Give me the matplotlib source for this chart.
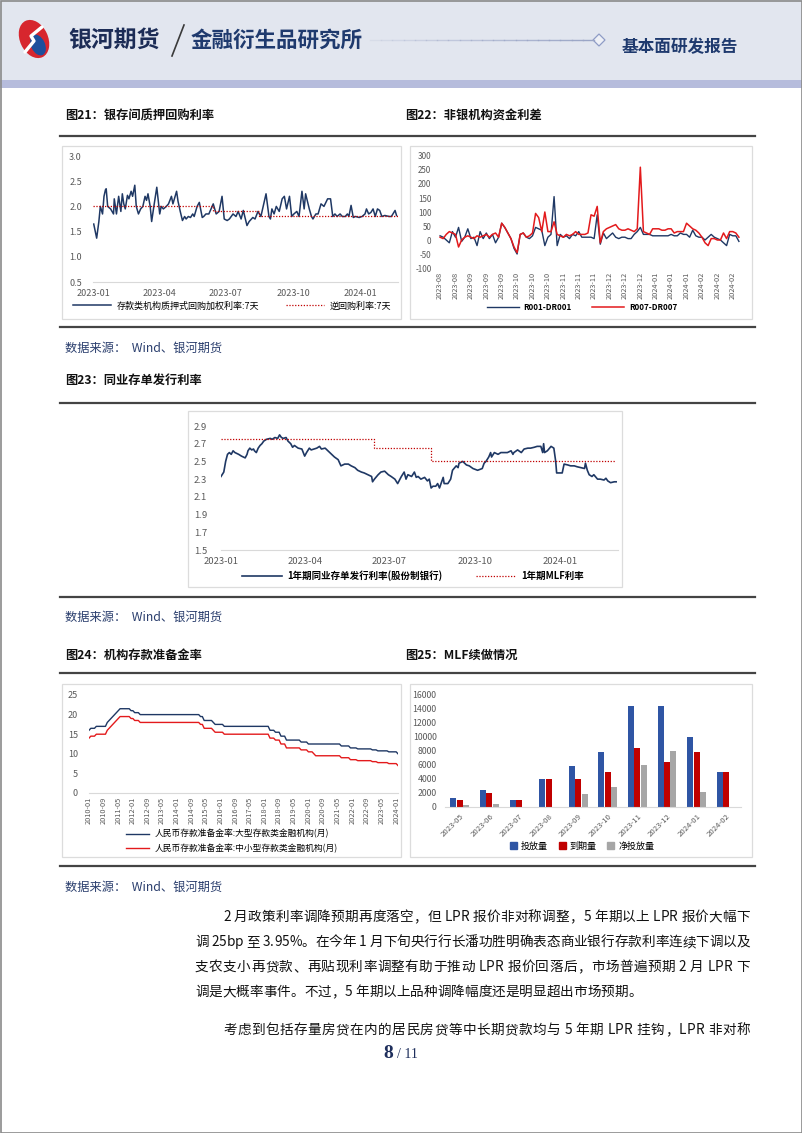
import matplotlib
matplotlib.use('Agg')
import matplotlib.pyplot as plt
import matplotlib.dates as mdates
from matplotlib.ticker import FormatStrFormatter
from matplotlib.patches import Rectangle, Ellipse, Polygon, Patch
import numpy as np
import pandas as pd

plt.rcParams['font.family'] = ['Noto Sans CJK SC', 'DejaVu Sans']
plt.rcParams['axes.unicode_minus'] = False

# ---------------- data ----------------
# Fig 21: 存款类机构质押式回购加权利率:7天 (days since 2023-01-01)
repo_day = [1, 5, 7, 8, 10, 13, 15, 17, 18, 20, 24, 26, 28,
            29, 32, 35, 38, 40, 42, 44, 47, 49, 52, 54, 57, 59,
            62, 65, 68, 71, 73, 75, 78, 80, 83, 87, 91,
            93, 96, 100, 103, 107, 109, 114, 116, 119, 122,
            125, 127, 130, 133, 136, 138, 142, 145, 149,
            151, 154, 158, 161, 164, 168, 172, 176, 179,
            183, 186, 191, 195, 198, 202, 205, 207, 210,
            213, 218, 221, 225, 229, 236, 240, 242,
            244, 247, 250, 254, 258, 261, 264, 268, 271,
            274, 278, 281, 285, 288, 290, 295, 298, 300,
            304, 307, 311, 315, 320, 324, 327, 330,
            333, 337, 340, 344, 347, 349, 352, 355, 358, 363,
            367, 371, 373, 376, 379, 382, 385, 388, 391, 394,
            398, 404, 407, 412, 414]
repo_rate = [1.65, 1.37, 1.6, 1.7, 2.0, 1.85, 2.2, 2.33, 2.35, 2.0, 1.95, 1.9, 1.85,
             2.15, 1.85, 2.2, 1.9, 2.25, 2.05, 1.95, 2.22, 2.15, 2.3, 2.2, 2.42, 2.0,
             1.85, 1.95, 2.0, 2.2, 2.12, 2.25, 2.0, 1.7, 2.0, 2.38, 1.85,
             2.0, 1.95, 2.0, 2.05, 2.2, 2.05, 2.3, 2.1, 1.9, 1.72,
             1.8, 1.75, 1.8, 1.78, 1.85, 1.8, 2.0, 2.08, 1.78,
             1.8, 1.85, 1.85, 1.95, 2.05, 1.85, 1.9, 2.2, 1.75,
             1.72, 1.75, 1.85, 1.8, 1.9, 1.75, 1.92, 1.8, 1.62,
             1.7, 1.78, 1.75, 1.9, 1.8, 2.25, 1.8, 1.75,
             1.95, 1.85, 2.0, 1.9, 2.15, 2.2, 1.95, 2.2, 1.8,
             1.85, 1.9, 1.8, 2.3, 1.95, 2.25, 1.95, 1.8, 1.75,
             1.85, 1.85, 2.05, 2.0, 2.15, 2.15, 1.8, 1.85,
             1.8, 1.85, 1.8, 1.8, 1.85, 1.8, 2.02, 1.78, 1.8, 1.78,
             1.8, 1.85, 1.95, 1.85, 1.88, 1.95, 1.8, 1.95, 1.92, 1.8,
             1.82, 1.8, 1.8, 1.92, 1.82]
rrepo_dates = ['2023-01-01', '2023-06-13', '2023-08-15', '2024-02-21']
rrepo_rate = [2.0, 1.9, 1.8, 1.8]

# Fig 22: 非银机构资金利差 (bp)
spread_labels = ['2023-08', '2023-08', '2023-09', '2023-09', '2023-09', '2023-10', '2023-10',
                 '2023-10', '2023-11', '2023-11', '2023-11', '2023-12', '2023-12', '2023-12',
                 '2024-01', '2024-01', '2024-01', '2024-02', '2024-02', '2024-02']
r001_dr001 = [15, 10, 0, -10, 30, 10, 45, -5, 10, 40,
              5, 10, -20, 30, 5, 25, 5, 20, -10, 10,
              60, 45, 25, 5, -30, -50, 20, 25, 10, 5,
              15, 45, 40, 35, -20, 10, 20, 155, -20, 20,
              10, 15, 5, 20, 15, 30, 10, 10, 10, 10,
              5, 90, -15, 25, 5, 15, 25, 10, 5, 10,
              10, 5, 5, 20, 30, 45, 20, 20, 20, 15,
              15, 15, 15, 15, 15, 20, 15, 15, 25, 20,
              20, 10, 35, 15, 10, 10, 0, 10, 20, 10,
              5, 0, -10, -20, 20, 15, 15, -5]
r007_dr007 = [10, 5, 20, 30, 25, 20, -25, 0, 10, 15,
              10, 5, 15, 10, 15, 20, 10, 20, 25, 10,
              60, 45, 25, 5, -25, -45, 20, 25, 10, 15,
              25, 95, 80, 30, 100, 30, 30, 65, 20, 15,
              10, 20, 15, 20, 30, 20, 20, 20, 25, 90,
              85, 120, -10, 30, 40, 45, 50, 55, 40, 35,
              35, 40, 35, 30, 40, 260, 30, 25, 20, 40,
              40, 40, 35, 35, 40, 40, 25, 30, 30, 30,
              60, 50, 40, 35, 25, 10, -10, -20, 5, 5,
              0, 0, 25, 5, 30, 30, 25, 10]

# Fig 23: 1年期同业存单发行利率(股份制银行) (days since 2023-01-01)
ncd_day = [0, 3, 5, 7, 9, 11, 13, 15, 19, 22,
           26, 28, 29, 31, 33, 35, 36, 38, 40, 42,
           44, 46, 49, 53, 55, 58, 61, 63, 65, 67,
           70, 72, 75, 77, 79, 83, 87, 90, 92, 95,
           97, 103, 106, 108, 112, 115, 119, 122, 126, 129,
           133, 137, 140, 144, 147, 151, 154, 158, 162, 163,
           165, 169, 172, 176, 180, 183, 187, 190, 194, 197,
           199, 201, 205, 208, 210, 212, 215, 219, 222, 224,
           226, 228, 231, 233, 235, 239, 240, 244, 247, 249,
           253, 255, 256, 260, 264, 267, 271, 276, 281, 283,
           285, 288, 290, 291, 294, 298, 301, 305, 308, 312,
           314, 315, 319, 323, 326, 330, 333, 337, 340, 344,
           346, 347, 348, 351, 355, 358, 360, 361, 365, 367,
           369, 373, 376, 380, 383, 387, 391, 392, 394, 396,
           399, 401, 405, 408, 412, 414, 416, 419, 423, 425]
ncd_rate = [2.33, 2.38, 2.5, 2.58, 2.6, 2.58, 2.62, 2.6, 2.58, 2.56,
            2.54, 2.58, 2.62, 2.65, 2.63, 2.64, 2.62, 2.6, 2.65, 2.68,
            2.7, 2.73, 2.75, 2.76, 2.75, 2.77, 2.76, 2.8, 2.77, 2.76,
            2.77, 2.73, 2.7, 2.66, 2.68, 2.65, 2.64, 2.56, 2.6, 2.65,
            2.63, 2.65, 2.67, 2.64, 2.65, 2.62, 2.58, 2.55, 2.52, 2.45,
            2.47, 2.47, 2.45, 2.43, 2.4, 2.38, 2.37, 2.35, 2.33, 2.27,
            2.3, 2.35, 2.38, 2.39, 2.35, 2.33, 2.3, 2.25, 2.33, 2.38,
            2.3, 2.35, 2.33, 2.38, 2.32, 2.33, 2.3, 2.32, 2.28, 2.3,
            2.2, 2.22, 2.22, 2.25, 2.2, 2.32, 2.25, 2.25, 2.3, 2.4,
            2.45, 2.43, 2.48, 2.5, 2.46, 2.45, 2.42, 2.4, 2.42, 2.48,
            2.5, 2.55, 2.6, 2.55, 2.6, 2.58, 2.6, 2.6, 2.6, 2.62,
            2.58, 2.6, 2.63, 2.6, 2.64, 2.65, 2.65, 2.66, 2.67, 2.67,
            2.6, 2.7, 2.6, 2.62, 2.67, 2.65, 2.5, 2.37, 2.37, 2.37,
            2.47, 2.46, 2.45, 2.45, 2.44, 2.43, 2.42, 2.48, 2.4, 2.35,
            2.33, 2.35, 2.3, 2.3, 2.29, 2.31, 2.28, 2.26, 2.27, 2.27]
mlf_dates = ['2023-01-01', '2023-06-15', '2023-08-15', '2024-02-29']
mlf_rate = [2.75, 2.65, 2.50, 2.50]

# Fig 24: 人民币存款准备金率 (month of change -> level)
rrr_months = pd.period_range('2010-01', '2024-02', freq='M')
rrr_large_month = ['2010-01', '2010-02', '2010-05', '2010-11', '2010-12', '2011-01', '2011-02',
                   '2011-03', '2011-04', '2011-05', '2011-06', '2011-12', '2012-02', '2012-05',
                   '2015-02', '2015-04', '2015-09', '2015-10', '2016-03', '2018-04', '2018-07',
                   '2018-10', '2019-01', '2019-09', '2020-01', '2021-07', '2021-12', '2022-04',
                   '2022-12', '2023-03', '2023-09', '2024-02']
rrr_large_value = [16.0, 16.5, 17.0, 18.0, 18.5, 19.0, 19.5, 20.0, 20.5, 21.0, 21.5, 21.0,
                   20.5, 20.0, 19.5, 18.5, 18.0, 17.5, 17.0, 16.0, 15.5, 14.5, 13.5, 13.0,
                   12.5, 12.0, 11.5, 11.25, 11.0, 10.75, 10.5, 10.0]
rrr_small_month = ['2010-01', '2010-02', '2010-05', '2010-11', '2010-12', '2011-01', '2011-02',
                   '2011-03', '2011-04', '2011-05', '2011-06', '2011-12', '2012-02', '2012-05',
                   '2015-02', '2015-04', '2015-09', '2015-10', '2016-03', '2018-04', '2018-07',
                   '2018-10', '2019-01', '2019-09', '2020-01', '2020-04', '2020-05', '2021-07',
                   '2021-12', '2022-04', '2022-12', '2023-03', '2023-09', '2024-02']
rrr_small_value = [14.0, 14.5, 15.0, 16.0, 16.5, 17.0, 17.5, 18.0, 18.5, 19.0, 19.5, 19.0,
                   18.5, 18.0, 17.5, 16.5, 16.0, 15.5, 15.0, 14.0, 13.5, 12.5, 11.5, 11.0,
                   10.5, 10.0, 9.5, 9.0, 8.5, 8.25, 8.0, 7.75, 7.5, 7.0]

# Fig 25: MLF续做情况 (亿元)
mlf_months = ['2023-05', '2023-06', '2023-07', '2023-08', '2023-09', '2023-10',
              '2023-11', '2023-12', '2024-01', '2024-02']
mlf_issue = [1250, 2370, 1030, 4010, 5910, 7890, 14500, 14500, 9950, 5000]
mlf_mature = [1000, 2000, 1000, 4000, 4000, 5000, 8500, 6500, 7790, 5000]
mlf_net = [250, 370, 30, 10, 1910, 2890, 6000, 8000, 2160, 0]

para_lines = [
    '2 月政策利率调降预期再度落空，但 LPR 报价非对称调整，5 年期以上 LPR 报价大幅下',
    '调 25bp 至 3.95%。在今年 1 月下旬央行行长潘功胜明确表态商业银行存款利率连续下调以及',
    '支农支小再贷款、再贴现利率调整有助于推动 LPR 报价回落后，市场普遍预期 2 月 LPR 下',
    '调是大概率事件。不过，5 年期以上品种调降幅度还是明显超出市场预期。',
    '考虑到包括存量房贷在内的居民房贷等中长期贷款均与 5 年期 LPR 挂钩，LPR 非对称',
]

# ---------------- styling ----------------
NAVY = '#1f3864'
RED = '#c00000'
BRIGHT_RED = '#e31a1c'
BLUE = '#2f55a4'
GRAY = '#a6a6a6'
TICK_C = '#595959'
SRC_C = '#2b3f6e'

W, H = 802, 1133
fig = plt.figure(figsize=(W / 100, H / 100), dpi=100)
renderer = fig.canvas.get_renderer()


def add_ax(x0, y0, x1, y1):
    ax = fig.add_axes([x0 / W, 1 - y1 / H, (x1 - x0) / W, (y1 - y0) / H])
    ax.patch.set_alpha(0)
    return ax


def style(ax, bottom=True, fs=6.5, xpad=2, ypad=2):
    for s in ['top', 'right', 'left']:
        ax.spines[s].set_visible(False)
    ax.spines['bottom'].set_visible(bottom)
    ax.spines['bottom'].set_color('#d9d9d9')
    ax.spines['bottom'].set_linewidth(0.8)
    ax.tick_params(length=0, labelsize=fs, labelcolor=TICK_C)
    ax.tick_params(axis='x', pad=xpad)
    ax.tick_params(axis='y', pad=ypad)


def fig_legend(handles, labels, x, y, **kw):
    return fig.legend(handles, labels, loc='center', bbox_to_anchor=(x / W, 1 - y / H),
                      bbox_transform=fig.transFigure, frameon=False, **kw)


# background / page decorations (pixel coordinates)
bg = fig.add_axes([0, 0, 1, 1])
bg.set_xlim(0, W)
bg.set_ylim(H, 0)
bg.axis('off')

bg.add_patch(Rectangle((0, 0), W, 80, facecolor='#e2e6ef', edgecolor='none'))
bg.add_patch(Rectangle((0, 80), W, 8, facecolor='#b6bcdc', edgecolor='none'))
bg.add_patch(Rectangle((0.5, 0.5), W - 1, H - 1, facecolor='none', edgecolor='#8a8a8a', lw=1.2))
# logo
bg.add_patch(Ellipse((34, 39), 28, 40, angle=-25, facecolor='#d7262e', edgecolor='none'))
bg.add_patch(Ellipse((38, 45), 14, 22, angle=-25, facecolor='#1d4f9c', edgecolor='none'))
bg.plot([25, 34, 31, 42], [52, 41, 36, 27], color='white', lw=2.4, solid_capstyle='round')
bg.text(68, 40, '银河期货', fontsize=16.5, fontweight='bold', color='#1c2c56', va='center', ha='left')
bg.plot([172, 184], [56, 25], color='#3a3a3a', lw=1.2)
bg.text(191, 40, '金融衍生品研究所', fontsize=15.5, fontweight='bold', color='#1f3a6e', va='center', ha='left')
for i in range(20):
    xa = 370 + i * 11.2
    bg.plot([xa, xa + 11.2], [40, 40], color='#9aa5c6', lw=1.0, alpha=0.15 + 0.85 * i / 19)
bg.add_patch(Polygon([[593, 40], [599, 34], [605, 40], [599, 46]], closed=True,
                     facecolor='#eef0f6', edgecolor='#8e9cc6', lw=0.9))
bg.text(622, 47, '基本面研发报告', fontsize=12, fontweight='bold', color='#1f3a6e', va='center', ha='left')

# section titles and rules
title_kw = dict(fontsize=8.8, fontweight='bold', color='#111111', va='center', ha='left')
bg.text(65, 116, '图21：银存间质押回购利率', **title_kw)
bg.text(405, 116, '图22：非银机构资金利差', **title_kw)
bg.text(65, 380, '图23：同业存单发行利率', **title_kw)
bg.text(65, 655, '图24：机构存款准备金率', **title_kw)
bg.text(405, 655, '图25：MLF续做情况', **title_kw)
for yl in [136, 327, 403, 597, 673, 866]:
    bg.plot([60, 755], [yl, yl], color='#444444', lw=1.6)
for ys in [348, 617, 887]:
    bg.text(65, ys, '数据来源：  Wind、银河期货', fontsize=8.8, color=SRC_C, va='center', ha='left')

# chart boxes
for (x0, y0, x1, y1) in [(62, 146, 401, 319), (410, 146, 752, 319), (188, 411, 622, 587),
                         (62, 684, 401, 857), (410, 684, 752, 857)]:
    bg.add_patch(Rectangle((x0, y0), x1 - x0, y1 - y0, facecolor='white', edgecolor='#dcdcdc', lw=0.9))

# paragraph (justified lines, like the report)
para_x = [223, 195, 195, 195, 223]
para_y = [917, 942, 967, 992, 1030]
para_justify = [True, True, True, False, True]
PARA_FS = 9.8
RIGHT_EDGE = 750
_wcache = {}


def char_w(c):
    if c not in _wcache:
        t = bg.text(0, 0, c if c != ' ' else 'a a', fontsize=PARA_FS)
        w = t.get_window_extent(renderer).width
        if c == ' ':
            t2 = bg.text(0, 0, 'aa', fontsize=PARA_FS)
            w = w - t2.get_window_extent(renderer).width
            t2.remove()
        t.remove()
        _wcache[c] = w
    return _wcache[c]


for line, xx, yy, just in zip(para_lines, para_x, para_y, para_justify):
    widths = [char_w(c) for c in line]
    extra = 0.0
    if just and len(line) > 1:
        extra = (RIGHT_EDGE - xx - sum(widths)) / (len(line) - 1)
    xpos = xx
    for c, w in zip(line, widths):
        if c != ' ':
            bg.text(xpos, yy, c, fontsize=PARA_FS, color='#111111', va='center', ha='left')
        xpos += w + extra

bg.text(393, 1053, '8', fontsize=14, fontweight='bold', color='#1f2f5c', va='center', ha='right',
        family=['Liberation Serif', 'DejaVu Serif'])
bg.text(397, 1054, '/ 11', fontsize=10, color='#1f2f5c', va='center', ha='left',
        family=['Liberation Serif', 'DejaVu Serif'])

base = pd.Timestamp('2023-01-01')
date_ticks = pd.to_datetime(['2023-01-01', '2023-04-01', '2023-07-01', '2023-10-01', '2024-01-01'])

# ---------- Fig 21 ----------
ax1 = add_ax(93, 156, 398, 282)
d1 = base + pd.to_timedelta(repo_day, unit='D')
l1, = ax1.plot(d1, repo_rate, color=NAVY, lw=1.1)
l2, = ax1.plot(pd.to_datetime(rrepo_dates), rrepo_rate, drawstyle='steps-post', color=RED,
               ls=(0, (1, 1.3)), lw=0.9)
ax1.set_xlim(base, base + pd.Timedelta(days=416))
ax1.set_ylim(0.5, 3.0)
ax1.set_yticks(np.arange(0.5, 3.01, 0.5))
ax1.yaxis.set_major_formatter(FormatStrFormatter('%.1f'))
ax1.set_xticks(date_ticks)
ax1.xaxis.set_major_formatter(mdates.DateFormatter('%Y-%m'))
style(ax1, xpad=5, ypad=8)
fig_legend([l1, l2], ['存款类机构质押式回购加权利率:7天', '逆回购利率:7天'], 232, 306, ncol=2,
           fontsize=6.5, handlelength=4.2, columnspacing=3.0, handletextpad=0.6)

# ---------- Fig 22 ----------
ax2 = add_ax(437, 156, 742, 268)
xi = np.arange(len(r001_dr001))
m1, = ax2.plot(xi, r001_dr001, color=NAVY, lw=1.0)
m2, = ax2.plot(xi, r007_dr007, color=BRIGHT_RED, lw=1.1)
ax2.set_xlim(-1, 98)
ax2.set_ylim(-100, 300)
ax2.set_yticks(np.arange(-100, 301, 50))
ax2.set_xticks(np.arange(0, 5 * len(spread_labels), 5))
ax2.set_xticklabels(spread_labels, rotation=90)
style(ax2, bottom=False, fs=5.8, xpad=3, ypad=4)
ax2.tick_params(axis='x', labelsize=5.3)
fig_legend([m1, m2], ['R001-DR001', 'R007-DR007'], 582, 307, ncol=2,
           prop={'size': 5.8, 'weight': 'bold'}, handlelength=4.0, columnspacing=2.5, handletextpad=0.6)

# ---------- Fig 23 ----------
ax3 = add_ax(221, 426, 618, 550)
d3 = base + pd.to_timedelta(ncd_day, unit='D')
n1, = ax3.plot(d3, ncd_rate, color=NAVY, lw=1.2)
n2, = ax3.plot(pd.to_datetime(mlf_dates), mlf_rate, drawstyle='steps-post', color=RED,
               ls=(0, (1, 1.3)), lw=0.9)
ax3.set_xlim(base, base + pd.Timedelta(days=427))
ax3.set_ylim(1.5, 2.9)
ax3.set_yticks(np.arange(1.5, 2.91, 0.2))
ax3.yaxis.set_major_formatter(FormatStrFormatter('%.1f'))
ax3.set_xticks(date_ticks)
ax3.xaxis.set_major_formatter(mdates.DateFormatter('%Y-%m'))
style(ax3, fs=6.8, xpad=5, ypad=10)
fig_legend([n1, n2], ['1年期同业存单发行利率(股份制银行)', '1年期MLF利率'], 413, 576, ncol=2,
           prop={'size': 6.8, 'weight': 'bold'}, handlelength=4.2, columnspacing=3.5, handletextpad=0.6)

# ---------- Fig 24 ----------
ax4 = add_ax(89, 695, 398, 793)
large = pd.Series(rrr_large_value, index=pd.PeriodIndex(rrr_large_month, freq='M')).reindex(rrr_months).ffill()
small = pd.Series(rrr_small_value, index=pd.PeriodIndex(rrr_small_month, freq='M')).reindex(rrr_months).ffill()
xm = np.arange(len(rrr_months))
k1, = ax4.plot(xm, large.values, color=NAVY, lw=1.0)
k2, = ax4.plot(xm, small.values, color=BRIGHT_RED, lw=1.0)
ax4.set_xlim(0, len(rrr_months) - 1)
ax4.set_ylim(0, 25)
ax4.set_yticks(np.arange(0, 26, 5))
tick_idx = np.arange(0, len(rrr_months), 8)
ax4.set_xticks(tick_idx)
ax4.set_xticklabels([rrr_months[i].strftime('%Y-%m') for i in tick_idx], rotation=90)
style(ax4, fs=6.5, xpad=3, ypad=8)
ax4.tick_params(axis='x', labelsize=5.3)
fig_legend([k1, k2], ['人民币存款准备金率:大型存款类金融机构(月)', '人民币存款准备金率:中小型存款类金融机构(月)'],
           232, 841, ncol=1, fontsize=6.3, handlelength=2.6, handletextpad=0.6, labelspacing=0.55)

# ---------- Fig 25 ----------
ax5 = add_ax(445, 695, 741, 807)
xc = np.arange(len(mlf_months))
bw = 0.2
ax5.bar(xc - 0.215, mlf_issue, width=bw, color=BLUE)
ax5.bar(xc, mlf_mature, width=bw, color=RED)
ax5.bar(xc + 0.215, mlf_net, width=bw, color=GRAY)
ax5.set_xlim(-0.5, len(mlf_months) - 0.5)
ax5.set_ylim(0, 16000)
ax5.set_yticks(np.arange(0, 16001, 2000))
ax5.set_xticks(xc)
ax5.set_xticklabels(mlf_months, rotation=45, ha='right', rotation_mode='anchor')
style(ax5, fs=6.3, xpad=4, ypad=6)
ax5.tick_params(axis='x', labelsize=5.6)
fig_legend([Patch(color=BLUE), Patch(color=RED), Patch(color=GRAY)], ['投放量', '到期量', '净投放量'],
           582, 846, ncol=3, fontsize=6.5, handlelength=0.8, handleheight=0.8, handletextpad=0.4,
           columnspacing=1.2)

fig.savefig('out.png', dpi=100)
